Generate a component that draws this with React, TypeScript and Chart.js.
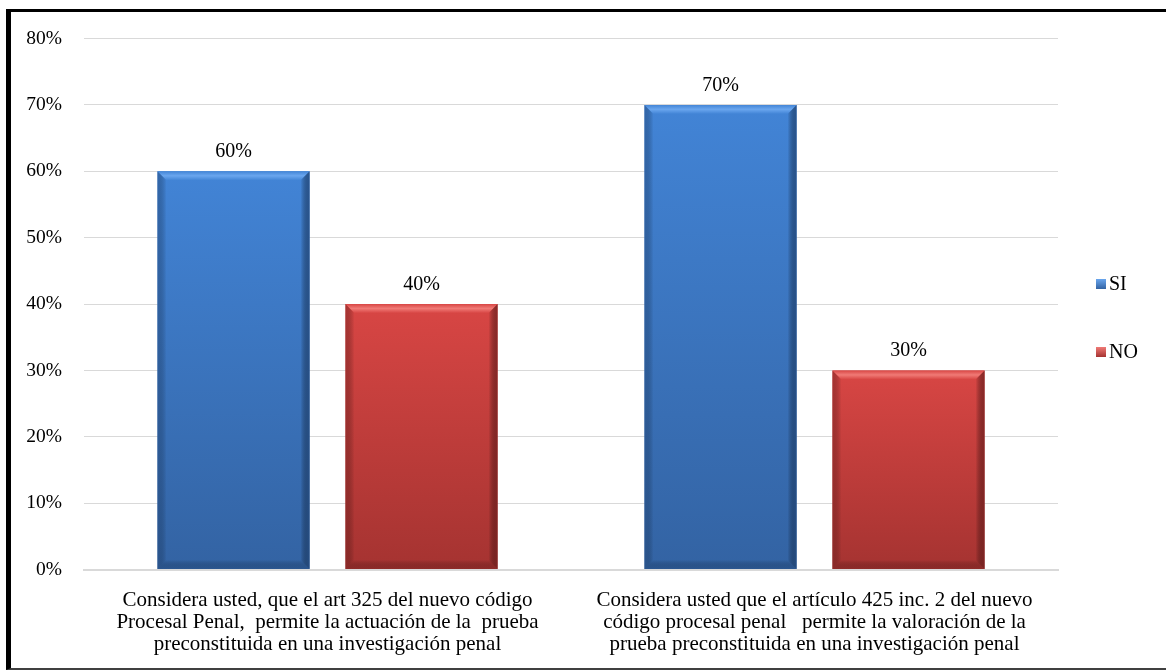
import React, { useEffect, useRef } from "react";
import { Chart, registerables } from "chart.js";

Chart.register(...registerables);

const categories: string[][] = [
  [
    "Considera usted, que el art 325 del nuevo código",
    "Procesal Penal,  permite la actuación de la  prueba",
    "preconstituida en una investigación penal",
  ],
  [
    "Considera usted que el artículo 425 inc. 2 del nuevo",
    "código procesal penal   permite la valoración de la",
    "prueba preconstituida en una investigación penal",
  ],
];
const seriesNames = ["SI", "NO"];
const siValues = [60, 70];
const noValues = [40, 30];
const yTicks = [0, 10, 20, 30, 40, 50, 60, 70, 80];

const FONT = "'Liberation Serif', 'Times New Roman', serif";

const palettes = [
  { light: "#6aa6ee", top: "#4284d6", bottom: "#3363a3", edge: "#244b80" },
  { light: "#f07a76", top: "#d84644", bottom: "#a53331", edge: "#7a2321" },
];

function barFill(ctx: any) {
  const chart = ctx.chart;
  const p = palettes[ctx.datasetIndex % 2];
  const yScale = chart.scales?.y;
  if (!yScale || ctx.raw == null) return p.top;
  const top = yScale.getPixelForValue(ctx.raw);
  const bottom = yScale.getPixelForValue(0);
  if (!isFinite(top) || !isFinite(bottom) || top === bottom) return p.top;
  const g = chart.ctx.createLinearGradient(0, top, 0, bottom);
  g.addColorStop(0, p.top);
  g.addColorStop(1, p.bottom);
  return g;
}

const bevelPlugin = {
  id: "bevel",
  afterDatasetsDraw(chart: any) {
    const ctx = chart.ctx;
    chart.data.datasets.forEach((ds: any, di: number) => {
      const meta = chart.getDatasetMeta(di);
      const p = palettes[di % 2];
      meta.data.forEach((bar: any) => {
        const { x, y, width, base } = bar.getProps(["x", "y", "width", "base"], true);
        if (![x, y, width, base].every((v) => isFinite(v))) return;
        const l = x - width / 2;
        const r = x + width / 2;
        const b = 9;
        ctx.save();
        const tg = ctx.createLinearGradient(0, y, 0, y + b);
        tg.addColorStop(0, p.top);
        tg.addColorStop(0.5, p.light);
        tg.addColorStop(1, p.top);
        ctx.fillStyle = tg;
        ctx.beginPath();
        ctx.moveTo(l, y);
        ctx.lineTo(r, y);
        ctx.lineTo(r - b, y + b);
        ctx.lineTo(l + b, y + b);
        ctx.closePath();
        ctx.fill();
        const lg = ctx.createLinearGradient(l, 0, l + b, 0);
        lg.addColorStop(0, p.edge);
        lg.addColorStop(1, "rgba(0,0,0,0)");
        ctx.fillStyle = lg;
        ctx.globalAlpha = 0.5;
        ctx.beginPath();
        ctx.moveTo(l, y);
        ctx.lineTo(l + b, y + b);
        ctx.lineTo(l + b, base - b);
        ctx.lineTo(l, base);
        ctx.closePath();
        ctx.fill();
        const rg = ctx.createLinearGradient(r, 0, r - b, 0);
        rg.addColorStop(0, p.edge);
        rg.addColorStop(1, "rgba(0,0,0,0)");
        ctx.fillStyle = rg;
        ctx.globalAlpha = 0.8;
        ctx.beginPath();
        ctx.moveTo(r, y);
        ctx.lineTo(r - b, y + b);
        ctx.lineTo(r - b, base - b);
        ctx.lineTo(r, base);
        ctx.closePath();
        ctx.fill();
        const bg = ctx.createLinearGradient(0, base, 0, base - b);
        bg.addColorStop(0, p.edge);
        bg.addColorStop(1, "rgba(0,0,0,0)");
        ctx.fillStyle = bg;
        ctx.globalAlpha = 0.5;
        ctx.beginPath();
        ctx.moveTo(l, base);
        ctx.lineTo(r, base);
        ctx.lineTo(r - b, base - b);
        ctx.lineTo(l + b, base - b);
        ctx.closePath();
        ctx.fill();
        ctx.restore();
      });
    });
  },
};

const labelPlugin = {
  id: "valueLabels",
  afterDatasetsDraw(chart: any) {
    const ctx = chart.ctx;
    ctx.save();
    ctx.font = `20px ${FONT}`;
    ctx.fillStyle = "#000";
    ctx.textAlign = "center";
    ctx.textBaseline = "alphabetic";
    chart.data.datasets.forEach((ds: any, di: number) => {
      const meta = chart.getDatasetMeta(di);
      meta.data.forEach((bar: any, i: number) => {
        ctx.fillText(`${ds.data[i]}%`, bar.x, bar.y - 14);
      });
    });
    ctx.restore();
  },
};

const legendPlugin = {
  id: "sideLegend",
  afterDraw(chart: any) {
    const ctx = chart.ctx;
    ctx.save();
    ctx.font = `20px ${FONT}`;
    ctx.textBaseline = "middle";
    ctx.textAlign = "left";
    const ys = [284, 352];
    chart.data.datasets.forEach((ds: any, di: number) => {
      const p = palettes[di % 2];
      const cy = ys[di];
      const g = ctx.createLinearGradient(0, cy - 5, 0, cy + 5);
      g.addColorStop(0, p.light);
      g.addColorStop(1, p.bottom);
      ctx.fillStyle = g;
      ctx.fillRect(1096, cy - 5, 10, 10);
      ctx.fillStyle = "#000";
      ctx.fillText(ds.label, 1109, cy + 1);
    });
    ctx.restore();
  },
};

export default function App() {
  const ref = useRef<HTMLCanvasElement | null>(null);
  useEffect(() => {
    if (!ref.current) return;
    const chart = new Chart(ref.current, {
      type: "bar",
      data: {
        labels: categories,
        datasets: [
          { label: seriesNames[0], data: siValues, backgroundColor: barFill as any, borderWidth: 0 },
          { label: seriesNames[1], data: noValues, backgroundColor: barFill as any, borderWidth: 0 },
        ],
      },
      options: {
        animation: false,
        responsive: false,
        maintainAspectRatio: false,
        categoryPercentage: 0.772,
        barPercentage: 0.81,
        layout: { padding: { left: 0, right: 108, top: 38.5, bottom: 0 } },
        plugins: {
          legend: { display: false },
          tooltip: { enabled: false },
          title: { display: false },
        },
        scales: {
          x: {
            grid: { display: false, drawTicks: false },
            border: { display: true, color: "#d9d9d9", width: 2 },
            ticks: {
              color: "#000",
              font: { family: FONT, size: 21, lineHeight: 1.05 },
              padding: 20,
              maxRotation: 0,
              autoSkip: false,
            },
            afterFit(scale: any) {
              scale.height = 100.5;
            },
          },
          y: {
            min: 0,
            max: 80,
            afterBuildTicks(scale: any) {
              scale.ticks = yTicks.map((v) => ({ value: v }));
            },
            grid: { color: "#d9d9d9", drawTicks: false },
            border: { display: false },
            ticks: {
              color: "#000",
              font: { family: FONT, size: 19.5 },
              padding: 22,
              callback: (v: any) => `${v}%`,
            },
            afterFit(scale: any) {
              scale.width = 84;
            },
          },
        },
      } as any,
      plugins: [bevelPlugin, labelPlugin, legendPlugin],
    });
    return () => chart.destroy();
  }, []);

  return (
    <div style={{ position: "fixed", left: 0, top: 0, width: 1166, height: 670, background: "#fff", overflow: "hidden" }}>
      <canvas ref={ref} width={1166} height={670} style={{ position: "absolute", left: 0, top: 0, width: 1166, height: 670 }} />
      <div
        style={{
          position: "absolute",
          left: 6,
          top: 9,
          width: 1300,
          height: 656,
          borderLeft: "5px solid #000",
          borderTop: "3px solid #000",
          borderBottom: "2px solid #404040",
          pointerEvents: "none",
        }}
      />
    </div>
  );
}
